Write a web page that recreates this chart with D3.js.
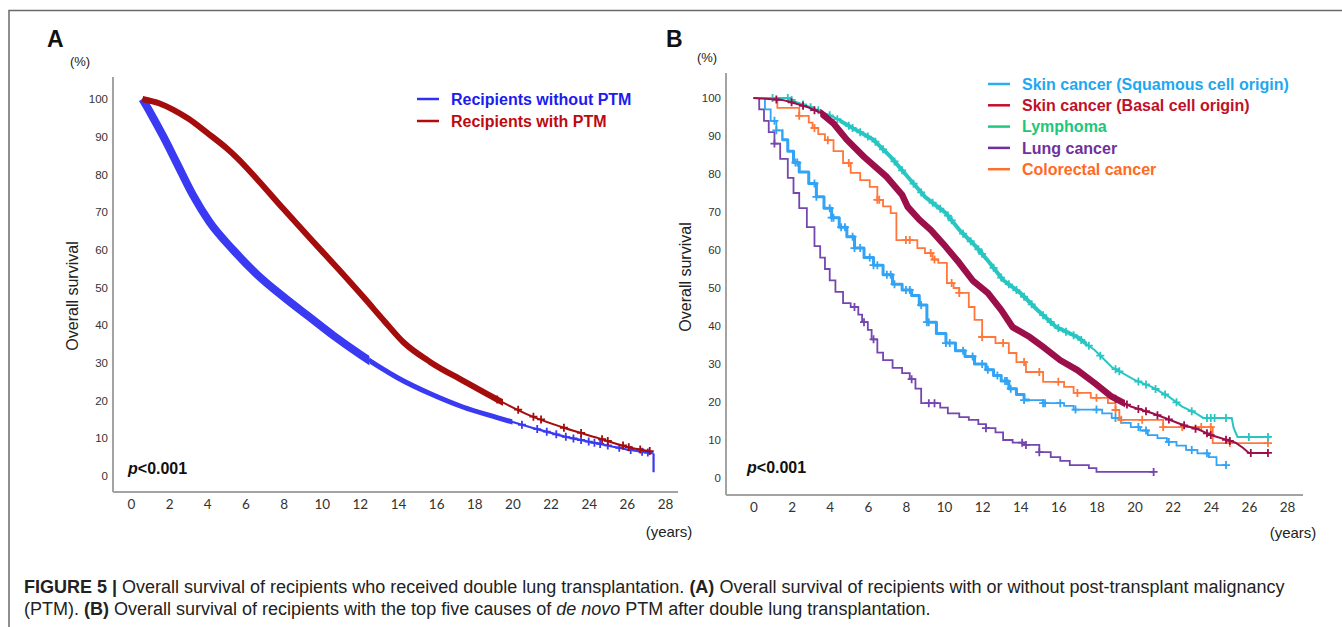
<!DOCTYPE html>
<html>
<head>
<meta charset="utf-8">
<script src="https://cdn.jsdelivr.net/npm/d3@7"></script>
<style>
  body { margin: 0; background: #fff; }
  svg text { font-family: "Liberation Sans", Arial, sans-serif; }
</style>
</head>
<body>
<svg id="fig" width="1342" height="627"></svg>
<script>
// ---- data ----
var yTicks = [0, 10, 20, 30, 40, 50, 60, 70, 80, 90, 100];
var xTicks = [0, 2, 4, 6, 8, 10, 12, 14, 16, 18, 20, 22, 24, 26, 28];

// panel A
var noPtmTime = [0.6, 1.0, 1.7, 2.4, 3.25, 4.1, 5.35, 6.6, 8.0, 9.4, 10.6, 12.0, 13.0, 14.0, 15.7, 17.4, 19.2, 20.9, 22.7, 24.4, 26.2, 27.4, 27.4];
var noPtmSurv = [100, 96.5, 90, 83, 74.5, 67.5, 60, 53.5, 47.5, 42, 37.3, 32.3, 29, 26, 21.8, 18.3, 15.5, 13, 10.5, 8.7, 6.9, 6, 1];
var noPtmCensor = [20.5, 21.3, 21.8, 22.3, 22.8, 23.2, 23.6, 24.0, 24.3, 24.6, 25.0, 25.6, 26.2, 26.8, 27.1];

var ptmTime = [0.6, 1.5, 2.2, 3.0, 4.0, 5.0, 5.6, 6.6, 8.0, 9.4, 10.8, 12.2, 13.3, 14.3, 15.7, 17.4, 19.2, 20.9, 22.7, 24.4, 26.2, 27.2];
var ptmSurv = [100, 98.8, 97.2, 94.8, 91, 87, 84.2, 78.8, 70.8, 63, 55.3, 47.4, 41, 35.4, 30.2, 25.3, 20.3, 16.1, 12.8, 10.2, 7.5, 6.6];
var ptmCensor = [19.2, 20.3, 21.1, 21.5, 22.7, 23.6, 24.7, 25.0, 25.8, 26.1, 26.7, 27.2];

// panel B
var squamousTime = [0, 0.6, 0.9, 1.2, 1.5, 1.8, 2.1, 2.4, 2.9, 3.3, 3.7, 4.1, 4.5, 4.9, 5.3, 5.8, 6.3, 6.8, 7.3, 7.8, 8.3, 8.7, 9.1, 9.6, 10.1, 10.6, 11.1, 11.6, 12.2, 12.6, 13.0, 13.4, 13.8, 14.2, 15.2, 16.3, 16.8, 18.3, 18.8, 19.3, 19.8, 20.3, 20.7, 21.2, 21.7, 22.2, 22.7, 23.3, 23.9, 24.3, 24.8];
var squamousSurv = [100, 97, 94, 91.5, 89, 86, 83, 80.5, 77.5, 74, 71, 68.5, 66, 63.5, 60.5, 58, 56, 53.5, 51, 49.5, 48, 45.5, 41, 38, 35.5, 33.5, 32, 30, 28.5, 27, 25.5, 23.5, 22, 20.5, 19.7, 19, 18, 17, 15.8, 14.5, 13.4, 12.5, 11.3, 10.5, 9.5, 8.5, 7.4, 6.5, 5.5, 3.4, 3.4];
var squamousCensor = [1.1, 1.2, 2.2, 2.3, 3.2, 3.3, 4.0, 4.1, 4.2, 4.6, 4.8, 5.2, 5.3, 5.6, 6.1, 6.3, 6.5, 7.0, 7.2, 7.4, 8.0, 8.2, 8.8, 9.1, 9.2, 10.1, 10.3, 11.0, 11.5, 12.0, 12.3, 12.8, 13.2, 13.3, 13.5, 14.2, 15.2, 15.3, 16.1, 16.9, 18.0, 19.0, 20.2, 20.6, 21.8, 23.0, 23.8, 24.8];

var basalTime = [0, 1.5, 1.9, 2.9, 3.55, 4.2, 4.9, 5.8, 7.0, 7.8, 8.1, 8.7, 9.3, 10.1, 10.8, 11.5, 12.3, 13.0, 13.6, 14.5, 15.2, 16.1, 17.0, 17.9, 18.8, 19.8, 20.9, 21.6, 22.5, 23.4, 24.0, 25.3, 25.7, 26.0, 27.0];
var basalSurv = [100, 99.5, 99, 97.5, 96, 93.3, 89, 84.5, 79.2, 74.5, 71.3, 68, 65.3, 60.8, 56.6, 52, 48.7, 44.2, 39.7, 37.1, 34.5, 31, 28.4, 25, 21.4, 18.8, 17.1, 15.8, 14, 12.7, 11.3, 9.3, 7.9, 6.6, 6.6];
var basalCensor = [1.2, 2.0, 2.6, 3.2, 19.0, 19.6, 20.2, 20.6, 21.2, 21.8, 22.6, 23.2, 23.8, 24.0, 24.8, 25.0, 26.1, 27.0];

var lymphomaTime = [0, 1.8, 2.2, 3.1, 4.2, 5.1, 6.3, 7.2, 8.1, 9.0, 10.1, 10.8, 11.7, 12.4, 13.1, 14.0, 14.9, 15.9, 17.0, 17.9, 18.8, 20.0, 20.9, 21.8, 22.5, 23.2, 23.6, 25.1, 25.2, 25.4, 27.1];
var lymphomaSurv = [100, 100, 99, 97.4, 95, 92.4, 89, 84.5, 79.2, 74, 69.7, 65.3, 60.8, 56.6, 52.1, 48.7, 44.2, 39.7, 37.1, 33.7, 29.2, 25.8, 24, 21.4, 18.8, 17.1, 15.8, 15.8, 13.2, 10.8, 10.8];
var lymphomaCensor = [1.0, 1.8, 2.0, 2.6, 3.0, 3.4, 4.0, 4.4, 5.0, 5.2, 5.6, 6.0, 6.4, 6.8, 7.4, 7.8, 8.4, 8.8, 9.4, 9.8, 10.2, 10.4, 11.0, 11.4, 11.8, 12.0, 12.6, 13.0, 13.4, 13.8, 14.2, 14.6, 15.2, 15.6, 16.0, 16.4, 16.8, 17.2, 17.6, 18.2, 19.0, 19.2, 20.2, 20.6, 21.1, 21.6, 22.2, 23.0, 23.8, 24.0, 24.2, 24.8, 26.0, 27.0];

var lungTime = [0, 0.3, 0.55, 0.8, 1.1, 1.4, 1.8, 2.1, 2.4, 2.8, 3.2, 3.5, 3.75, 4.0, 4.3, 4.7, 5.1, 5.5, 5.7, 6.0, 6.2, 6.5, 6.8, 7.3, 7.8, 8.2, 8.5, 8.8, 9.8, 10.2, 10.8, 11.3, 11.8, 12.2, 12.7, 13.1, 13.6, 14.2, 15.0, 15.6, 16.1, 16.6, 17.6, 18.0, 21.0];
var lungSurv = [100, 97, 94, 91, 88, 84, 79, 75, 71, 66, 61, 58, 55, 52, 49, 46, 45, 43, 41, 39, 36.5, 33, 31, 29, 27.6, 26, 23.5, 19.7, 18.5, 17, 16, 15.3, 14.2, 13.1, 12, 10, 9.3, 8.7, 6.8, 5.5, 4.5, 3.4, 2.6, 1.6, 1.6];
var lungCensor = [1.1, 5.3, 5.8, 6.3, 8.3, 9.2, 9.5, 12.2, 14.1, 14.3, 15.0, 21.0];

var colorectalTime = [0, 1.25, 2.4, 2.9, 3.1, 3.4, 3.75, 4.2, 4.7, 5.1, 5.6, 6.1, 6.5, 6.8, 7.2, 7.5, 8.6, 9.0, 9.4, 9.7, 10.15, 10.5, 10.8, 11.3, 11.6, 12.0, 12.7, 13.4, 13.8, 14.3, 15.2, 16.3, 16.8, 17.7, 18.6, 19.0, 19.2, 21.5, 24.1, 27.0];
var colorectalSurv = [100, 97.4, 95.3, 93.5, 92.1, 90.5, 88.9, 86, 82.9, 80.3, 78.4, 76.6, 73.2, 71.5, 69.7, 62.6, 60.5, 59.2, 57.5, 56.6, 51.3, 50, 48.7, 45, 41.6, 37.1, 35.5, 32.9, 30.5, 27.9, 25.3, 24, 22.4, 21.1, 19.7, 17.9, 15.3, 13.4, 9.2, 9.2];
var colorectalCensor = [2.4, 3.2, 3.9, 5.0, 6.5, 6.6, 8.0, 8.2, 9.3, 9.5, 10.4, 10.8, 12.0, 13.1, 14.2, 15.0, 16.0, 17.0, 18.0, 19.0, 19.3, 20.4, 21.5, 22.5, 23.5, 24.0, 25.0, 27.0];

var legendA = ["Recipients without PTM", "Recipients with PTM"];
var legendB = ["Skin cancer (Squamous cell origin)", "Skin cancer (Basal cell origin)", "Lymphoma", "Lung cancer", "Colorectal cancer"];

// ---- drawing ----
var svg = d3.select("#fig");
var clipId = 0;

// figure frame (top and left rule)
svg.append("path")
    .attr("d", "M9,627V10.5H1342")
    .attr("fill", "none")
    .attr("stroke", "#6a6a6a")
    .attr("stroke-width", 1.5);

function valueAt(s, t) {
    var i = d3.bisectRight(s.time, t) - 1;
    if (i < 0) return s.surv[0];
    if (s.step || i >= s.time.length - 1) return s.surv[i];
    var t0 = s.time[i], t1 = s.time[i + 1];
    if (t1 === t0) return s.surv[i + 1];
    return s.surv[i] + (s.surv[i + 1] - s.surv[i]) * (t - t0) / (t1 - t0);
}

function buildPanel(p) {
    var g = svg.append("g");
    var x = d3.scaleLinear().domain([0, 28]).range(p.xRange);
    var y = d3.scaleLinear().domain([0, 100]).range(p.yRange);

    // axes
    g.append("line")
        .attr("x1", p.axisX).attr("x2", p.axisX)
        .attr("y1", p.axisTop).attr("y2", p.axisY)
        .attr("stroke", "#a3a3a3").attr("stroke-width", 2);
    g.append("line")
        .attr("x1", p.axisX).attr("x2", p.axisRight)
        .attr("y1", p.axisY).attr("y2", p.axisY)
        .attr("stroke", "#a3a3a3").attr("stroke-width", 2);

    var ya = g.append("g")
        .attr("transform", "translate(" + p.axisX + ",0)")
        .call(d3.axisLeft(y).tickValues(yTicks).tickSize(0).tickPadding(5));
    ya.select(".domain").remove();
    ya.selectAll("text")
        .attr("fill", "#333")
        .style("font-family", "'Liberation Sans Narrow', 'Liberation Sans', Arial, sans-serif")
        .style("font-size", "11.5px");

    var xa = g.append("g")
        .attr("transform", "translate(0," + p.axisY + ")")
        .call(d3.axisBottom(x).tickValues(xTicks).tickSize(0).tickPadding(7));
    xa.select(".domain").remove();
    xa.selectAll("text")
        .attr("fill", "#333")
        .style("font-family", "Lato, 'Open Sans', sans-serif")
        .style("font-size", "13.5px");

    // curves
    p.series.forEach(function(s) {
        var pts = s.time.map(function(t, i) { return [t, s.surv[i]]; });
        var mk = function(c) {
            return d3.line()
                .x(function(d) { return x(d[0]); })
                .y(function(d) { return y(d[1]); })
                .curve(c);
        };
        var dStr;
        if (s.smooth) {
            // smooth run while time increases, then any trailing vertical drop as a straight segment
            var main = [pts[0]], tail = [];
            pts.slice(1).forEach(function(q) {
                if (tail.length || q[0] <= main[main.length - 1][0]) tail.push(q);
                else main.push(q);
            });
            dStr = mk(d3.curveMonotoneX)(main);
            if (tail.length) dStr += mk(d3.curveLinear)([main[main.length - 1]].concat(tail));
        } else {
            dStr = mk(s.step ? d3.curveStepAfter : d3.curveLinear)(pts);
        }

        g.append("path")
            .attr("d", dStr)
            .attr("fill", "none")
            .attr("stroke", s.color)
            .attr("stroke-width", s.width);

        // heavy stretches where censor ticks pile up
        (s.heavy || []).forEach(function(h) {
            var id = "clip" + (clipId++);
            svg.append("clipPath").attr("id", id)
                .append("rect")
                .attr("x", x(h[0])).attr("y", 0)
                .attr("width", x(h[1]) - x(h[0])).attr("height", 627);
            g.append("path")
                .attr("d", dStr)
                .attr("fill", "none")
                .attr("stroke", s.color)
                .attr("stroke-width", h[2])
                .attr("stroke-linejoin", "round")
                .attr("clip-path", "url(#" + id + ")");
        });

        g.selectAll(null)
            .data(s.censor)
            .enter().append("path")
            .attr("d", function(t) {
                var cx = x(t), cy = y(valueAt(s, t)), r = 4;
                return "M" + (cx - r) + "," + cy + "H" + (cx + r) + "M" + cx + "," + (cy - r) + "V" + (cy + r);
            })
            .attr("stroke", s.color)
            .attr("stroke-width", 1.8);
    });

    // legend
    p.legend.forEach(function(l, i) {
        var ly = p.legendY + i * p.legendStep;
        g.append("line")
            .attr("x1", p.legendX).attr("x2", p.legendX + 22)
            .attr("y1", ly).attr("y2", ly)
            .attr("stroke", l.line).attr("stroke-width", 2.5);
        g.append("text")
            .attr("x", p.legendX + 34).attr("y", ly)
            .attr("dy", "0.35em")
            .attr("fill", l.text)
            .style("font-size", p.legendFont + "px")
            .style("font-weight", "bold")
            .text(l.name);
    });

    // labels
    g.append("text")
        .attr("x", p.letterX).attr("y", 47)
        .style("font-size", "23px").style("font-weight", "bold")
        .attr("fill", "#111")
        .text(p.letter);
    g.append("text")
        .attr("x", p.pctX).attr("y", p.pctY).attr("dy", "0.35em")
        .attr("text-anchor", "middle")
        .style("font-size", "13px").attr("fill", "#222")
        .text("(%)");
    g.append("text")
        .attr("transform", "translate(" + p.titleX + "," + p.titleY + ") rotate(-90)")
        .attr("text-anchor", "middle").attr("dy", "0.35em")
        .style("font-size", "16px").attr("fill", "#222")
        .text("Overall survival");
    g.append("text")
        .attr("x", p.yearsX).attr("y", p.yearsY).attr("dy", "0.35em")
        .attr("text-anchor", "middle")
        .style("font-size", "15px").attr("fill", "#222")
        .text("(years)");
    var pv = g.append("text")
        .attr("x", p.pX).attr("y", p.pY).attr("dy", "0.35em")
        .style("font-size", "16px").style("font-weight", "bold").attr("fill", "#111");
    pv.append("tspan").style("font-style", "italic").text("p");
    pv.append("tspan").text("<0.001");
}

buildPanel({
    letter: "A", letterX: 47,
    xRange: [131, 665], yRange: [476, 99],
    axisX: 113, axisTop: 77, axisY: 492, axisRight: 678,
    pctX: 80, pctY: 61, titleX: 72, titleY: 296,
    yearsX: 669, yearsY: 532, pX: 128, pY: 468,
    legendX: 417, legendY: 99, legendStep: 22, legendFont: 16,
    legend: [
        { name: legendA[0], line: "#2f2ff5", text: "#1c1cf0" },
        { name: legendA[1], line: "#b30b0b", text: "#c0090f" }
    ],
    series: [
        { time: noPtmTime, surv: noPtmSurv, censor: noPtmCensor, color: "#3a3af2", width: 2.2, smooth: true,
          heavy: [[0, 12.5, 8], [12.5, 20, 5]] },
        { time: ptmTime, surv: ptmSurv, censor: ptmCensor, color: "#a50c0c", width: 2, smooth: true,
          heavy: [[0, 19.5, 6]] }
    ]
});

buildPanel({
    letter: "B", letterX: 666,
    xRange: [753.5, 1287], yRange: [478, 98],
    axisX: 726, axisTop: 73, axisY: 495, axisRight: 1303,
    pctX: 707, pctY: 57, titleX: 685, titleY: 277,
    yearsX: 1293, yearsY: 533, pX: 747, pY: 467,
    legendX: 988, legendY: 84, legendStep: 21.3, legendFont: 16,
    legend: [
        { name: legendB[0], line: "#2aaef0", text: "#1fa8ee" },
        { name: legendB[1], line: "#c0102a", text: "#c0102a" },
        { name: legendB[2], line: "#20c880", text: "#1ec67a" },
        { name: legendB[3], line: "#7030a0", text: "#7030a0" },
        { name: legendB[4], line: "#ff7030", text: "#ff6a1f" }
    ],
    series: [
        { time: lungTime, surv: lungSurv, censor: lungCensor, color: "#7446b0", width: 1.8, step: true },
        { time: squamousTime, surv: squamousSurv, censor: squamousCensor, color: "#32a4f6", width: 1.8, step: true,
          heavy: [[1.5, 14.5, 3]] },
        { time: colorectalTime, surv: colorectalSurv, censor: colorectalCensor, color: "#ff773a", width: 1.8, step: true },
        { time: lymphomaTime, surv: lymphomaSurv, censor: lymphomaCensor, color: "#28c6c2", width: 2,
          heavy: [[4.5, 17.5, 4]] },
        { time: basalTime, surv: basalSurv, censor: basalCensor, color: "#9b0f4a", width: 2,
          heavy: [[3.5, 19.5, 6.5]] }
    ]
});

// ---- caption ----
var cap1 = svg.append("text").attr("x", 24).attr("y", 593)
    .style("font-size", "18px").attr("fill", "#222");
cap1.append("tspan").style("font-weight", "bold").text("FIGURE 5 | ");
cap1.append("tspan").text("Overall survival of recipients who received double lung transplantation. ");
cap1.append("tspan").style("font-weight", "bold").text("(A)");
cap1.append("tspan").text(" Overall survival of recipients with or without post-transplant malignancy");

var cap2 = svg.append("text").attr("x", 24).attr("y", 615)
    .style("font-size", "18px").attr("fill", "#222");
cap2.append("tspan").text("(PTM). ");
cap2.append("tspan").style("font-weight", "bold").text("(B)");
cap2.append("tspan").text(" Overall survival of recipients with the top five causes of ");
cap2.append("tspan").style("font-style", "italic").text("de novo");
cap2.append("tspan").text(" PTM after double lung transplantation.");
</script>
</body>
</html>
